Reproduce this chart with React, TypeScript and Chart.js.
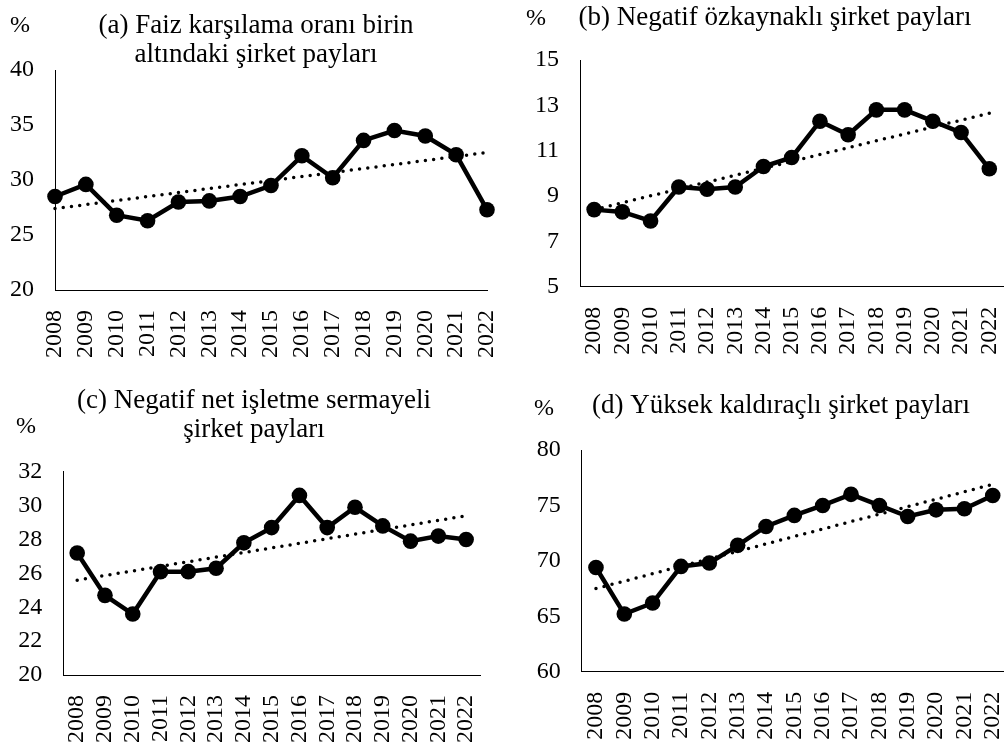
import React, { useEffect, useRef } from "react";
import { Chart, registerables } from "chart.js";

Chart.register(...registerables);

const years = ["2008", "2009", "2010", "2011", "2012", "2013", "2014", "2015", "2016", "2017", "2018", "2019", "2020", "2021", "2022"];

const seriesA = [28.5, 29.6, 26.8, 26.3, 28.0, 28.1, 28.5, 29.5, 32.2, 30.2, 33.6, 34.5, 34.0, 32.3, 27.3];
const trendA = [27.4, 32.5];
const seriesB = [8.4, 8.3, 7.9, 9.4, 9.3, 9.4, 10.3, 10.7, 12.3, 11.7, 12.8, 12.8, 12.3, 11.8, 10.2];
const trendB = [8.4, 12.65];
const seriesC = [27.2, 24.7, 23.6, 26.1, 26.1, 26.3, 27.8, 28.7, 30.6, 28.7, 29.9, 28.8, 27.9, 28.2, 28.0];
const trendC = [25.6, 29.4];
const seriesD = [69.4, 65.2, 66.2, 69.5, 69.8, 71.4, 73.1, 74.1, 75.0, 76.0, 75.0, 74.0, 74.6, 74.7, 75.9];
const trendD = [67.5, 76.9];

const titleA = ["(a) Faiz karşılama oranı birin", "altındaki şirket payları"];
const titleB = ["(b) Negatif özkaynaklı şirket payları"];
const titleC = ["(c) Negatif net işletme sermayeli", "şirket payları"];
const titleD = ["(d) Yüksek kaldıraçlı şirket payları"];

const FONT = '"Liberation Serif", "Times New Roman", serif';

type PanelCfg = {
  left: number; top: number; w: number; h: number;
  area: { l: number; r: number; t: number; b: number };
  yMin: number; yMax: number; yStep: number;
  offset: boolean;
  series: number[]; trend: number[];
  title: string[]; titleX: number; titleY: number[];
  pctX: number; pctY: number;
};

const panels: PanelCfg[] = [
  { left: 0, top: 0, w: 500, h: 360, area: { l: 55, r: 487, t: 70, b: 290 }, yMin: 20, yMax: 40, yStep: 5, offset: false,
    series: seriesA, trend: trendA, title: titleA, titleX: 256, titleY: [32.5, 62], pctX: 20, pctY: 32 },
  { left: 500, top: 0, w: 510, h: 360, area: { l: 80, r: 503.4, t: 60, b: 286.7 }, yMin: 5, yMax: 15, yStep: 2, offset: true,
    series: seriesB, trend: trendB, title: titleB, titleX: 275, titleY: [24.5], pctX: 36, pctY: 25 },
  { left: 0, top: 360, w: 500, h: 382, area: { l: 63.3, r: 480, t: 111.7, b: 315 }, yMin: 20, yMax: 32, yStep: 2, offset: true,
    series: seriesC, trend: trendC, title: titleC, titleX: 254, titleY: [48, 77], pctX: 26, pctY: 73 },
  { left: 500, top: 360, w: 510, h: 382, area: { l: 81.8, r: 506.9, t: 90, b: 311.7 }, yMin: 60, yMax: 80, yStep: 5, offset: true,
    series: seriesD, trend: trendD, title: titleD, titleX: 281, titleY: [53], pctX: 44, pctY: 55 },
];

function Panel({ cfg }: { cfg: PanelCfg }) {
  const ref = useRef<HTMLCanvasElement>(null);
  useEffect(() => {
    if (!ref.current) return;
    const n = years.length;
    const trendData = years.map((_, i) => (i === 0 ? cfg.trend[0] : i === n - 1 ? cfg.trend[1] : null));
    const textPlugin = {
      id: "panelText",
      afterDraw(chart: any) {
        const ctx = chart.ctx;
        ctx.save();
        ctx.fillStyle = "#000";
        ctx.textBaseline = "alphabetic";
        ctx.textAlign = "center";
        ctx.font = `27px ${FONT}`;
        cfg.title.forEach((t, i) => ctx.fillText(t, cfg.titleX, cfg.titleY[i]));
        ctx.font = `24px ${FONT}`;
        ctx.fillText("%", cfg.pctX, cfg.pctY);
        ctx.restore();
      },
    };
    const chart = new Chart(ref.current, {
      type: "line",
      data: {
        labels: years,
        datasets: [
          {
            data: cfg.series,
            borderColor: "#000",
            backgroundColor: "#000",
            borderWidth: 4.5,
            pointRadius: 7.8,
            pointBackgroundColor: "#000",
            pointBorderColor: "#000",
            pointBorderWidth: 0,
            tension: 0,
            clip: false,
          },
          {
            data: trendData,
            borderColor: "#000",
            borderWidth: 3.5,
            borderDash: [0, 8.3],
            borderCapStyle: "round",
            pointRadius: 0,
            spanGaps: true,
            tension: 0,
            clip: false,
          },
        ],
      },
      options: {
        responsive: false,
        animation: false,
        devicePixelRatio: 1,
        events: [],
        layout: {
          autoPadding: false,
          padding: { left: 0, top: cfg.area.t, right: cfg.w - cfg.area.r, bottom: 0 },
        },
        plugins: { legend: { display: false }, tooltip: { enabled: false }, title: { display: false } },
        scales: {
          x: {
            type: "category",
            offset: cfg.offset,
            grid: { display: false, drawTicks: false },
            border: { display: true, color: "#000", width: 1 },
            ticks: {
              color: "#000",
              font: { family: FONT, size: 24 },
              minRotation: 90,
              maxRotation: 90,
              padding: 20,
              autoSkip: false,
            },
            afterFit: (s: any) => {
              s.height = cfg.h - cfg.area.b;
              s.paddingLeft = 0; s.paddingRight = 0; s.paddingTop = 0; s.paddingBottom = 0;
            },
          },
          y: {
            min: cfg.yMin,
            max: cfg.yMax,
            grid: { display: false, drawTicks: false },
            border: { display: true, color: "#000", width: 1 },
            ticks: {
              stepSize: cfg.yStep,
              color: "#000",
              font: { family: FONT, size: 24 },
              padding: 21,
            },
            afterFit: (s: any) => {
              s.width = cfg.area.l;
              s.paddingLeft = 0; s.paddingRight = 0; s.paddingTop = 0; s.paddingBottom = 0;
            },
          },
        },
      },
      plugins: [textPlugin],
    } as any);
    return () => chart.destroy();
  }, [cfg]);
  return (
    <div style={{ position: "absolute", left: cfg.left, top: cfg.top, width: cfg.w, height: cfg.h }}>
      <canvas ref={ref} width={cfg.w} height={cfg.h} style={{ width: cfg.w, height: cfg.h, display: "block" }} />
    </div>
  );
}

export default function App() {
  return (
    <div style={{ position: "absolute", left: 0, top: 0, width: 1004, height: 742, overflow: "hidden", background: "#fff" }}>
      {panels.map((p, i) => (
        <Panel key={i} cfg={p} />
      ))}
    </div>
  );
}
